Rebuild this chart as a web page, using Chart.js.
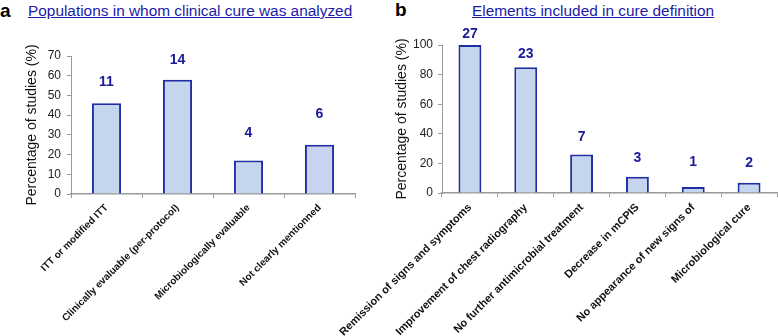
<!DOCTYPE html>
<html>
<head>
<meta charset="utf-8">
<script src="https://cdn.jsdelivr.net/npm/chart.js@4.4.1/dist/chart.umd.min.js"></script>
<style>
  body { margin: 0; width: 778px; height: 336px; background: #fff; position: relative; overflow: hidden; font-family: "Liberation Sans", Arial, sans-serif; }
  .letter { position: absolute; font-weight: bold; font-size: 19px; color: #000; line-height: 1; }
  .title { position: absolute; font-size: 15.4px; color: #1c1ca6; text-decoration: underline; line-height: 1; white-space: nowrap; }
  canvas { position: absolute; top: 0; }
</style>
</head>
<body>
<span class="letter" style="left:0px; top:1px;">a</span>
<span class="title" style="left:28px; top:3px;">Populations in whom clinical cure was analyzed</span>
<span class="letter" style="left:395px; top:0px;">b</span>
<span class="title" style="left:472px; top:3px;">Elements included in cure definition</span>

<canvas id="chartA" width="390" height="336" style="left:0px;"></canvas>
<canvas id="chartB" width="448" height="336" style="left:330px;"></canvas>

<script>
// Panel a: populations analysed
const popLabels = ['ITT or modified ITT', 'Clinically evaluable (per-protocol)', 'Microbiologically evaluable', 'Not clearly mentionned'];
const popPercent = [46, 58, 17, 25];
const popCounts = [11, 14, 4, 6];

// Panel b: elements of cure definition
const cureLabels = ['Remission of signs and symptoms', 'Improvement of chest radiography', 'No further antimicrobial treatment', 'Decrease in mCPIS', 'No appearance of new signs of', 'Microbiological cure'];
const curePercent = [100, 85, 26, 11, 4, 7];
const cureCounts = [27, 23, 7, 3, 1, 2];

// distance (px) of each count label above its bar, as placed in the figure
const popLift = [21, 20, 27, 31];
const cureLift = [11, 13, 17, 19, 25, 19];

const FONT = '"Liberation Sans", Arial, sans-serif';
const BAR_FILL = '#c6d5ee';
const BAR_EDGE = '#1f2ea3';
const AXIS_GREY = '#9a9a9a';

// draws the n= counts above the bars
const countLabels = {
    id: 'countLabels',
    afterDatasetsDraw(chart, args, opts) {
        const ctx = chart.ctx;
        const meta = chart.getDatasetMeta(0);
        ctx.save();
        ctx.font = 'bold 14px ' + FONT;
        ctx.fillStyle = '#1a1a9c';
        ctx.textAlign = 'center';
        ctx.textBaseline = 'middle';
        meta.data.forEach((bar, i) => {
            ctx.fillText(String(opts.counts[i]), bar.x, bar.y - opts.lift[i]);
        });
        ctx.restore();
    }
};

function makeChart(id, labels, values, counts, lift, cfg) {
    const ctx = document.getElementById(id).getContext('2d');
    return new Chart(ctx, {
        type: 'bar',
        data: {
            labels: labels,
            datasets: [{
                data: values,
                backgroundColor: BAR_FILL,
                borderColor: BAR_EDGE,
                borderWidth: 2,
                borderSkipped: 'bottom',
                categoryPercentage: 1,
                barPercentage: 0.41
            }]
        },
        options: {
            responsive: false,
            animation: false,
            devicePixelRatio: 1,
            layout: { padding: cfg.padding },
            plugins: {
                legend: { display: false },
                tooltip: { enabled: false },
                countLabels: { counts: counts, lift: lift }
            },
            scales: {
                x: {
                    grid: { offset: true, drawOnChartArea: false, tickLength: 4, color: AXIS_GREY },
                    border: { color: AXIS_GREY, width: 1.5 },
                    ticks: {
                        autoSkip: false,
                        minRotation: 45,
                        maxRotation: 45,
                        padding: 4,
                        color: '#111',
                        font: { family: FONT, size: cfg.xFont, weight: 'bold' }
                    },
                    afterFit: (s) => {
                        s.height = cfg.xHeight;
                        // long rotated labels may hang outside, keep the plot where it is
                        s.paddingLeft = 0;
                        s.paddingRight = 0;
                    }
                },
                y: {
                    min: 0,
                    max: cfg.yMax,
                    grid: { drawOnChartArea: false, tickLength: 4, color: AXIS_GREY },
                    border: { color: AXIS_GREY, width: 1 },
                    ticks: {
                        stepSize: cfg.yStep,
                        padding: cfg.tickPad,
                        color: '#222',
                        font: { family: FONT, size: 12 }
                    },
                    title: {
                        display: true,
                        text: 'Percentage of studies (%)',
                        color: '#111',
                        font: { family: FONT, size: 14 },
                        padding: { top: cfg.titlePad, bottom: 0 }
                    },
                    afterFit: (s) => { s.width = cfg.yWidth; }
                }
            }
        },
        plugins: [countLabels]
    });
}

makeChart('chartA', popLabels, popPercent, popCounts, popLift, {
    padding: { top: 56, right: 35, left: 0, bottom: 0 },
    xHeight: 142, yWidth: 71, yMax: 70, yStep: 10, tickPad: 6, titlePad: 23.6, xFont: 10
});

makeChart('chartB', cureLabels, curePercent, cureCounts, cureLift, {
    padding: { top: 45, right: 1, left: 60, bottom: 0 },
    xHeight: 143, yWidth: 52, yMax: 100, yStep: 20, tickPad: 5, titlePad: 3.6, xFont: 11
});
</script>
</body>
</html>
